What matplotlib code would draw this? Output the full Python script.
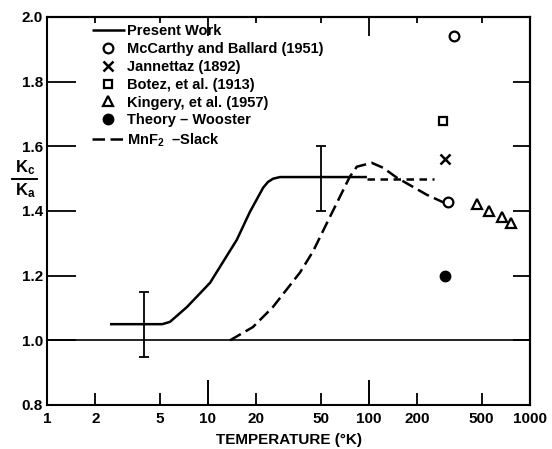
import matplotlib
matplotlib.use("Agg")
import matplotlib.pyplot as plt
from matplotlib.lines import Line2D
from matplotlib.ticker import FixedLocator, FixedFormatter, NullFormatter

plt.rcParams['font.family'] = ['Liberation Sans', 'DejaVu Sans']
plt.rcParams['font.weight'] = 'bold'
plt.rcParams['axes.labelweight'] = 'bold'
plt.rcParams['mathtext.fontset'] = 'custom'
plt.rcParams['mathtext.rm'] = 'Liberation Sans:bold'
plt.rcParams['mathtext.it'] = 'Liberation Sans:bold'
plt.rcParams['mathtext.bf'] = 'Liberation Sans:bold'

# ---- data ----
present_T = [2.46, 5.2, 5.8, 7.4, 10.3, 15.1, 18.2, 22, 23.6, 25.4, 28, 35, 50, 97]
present_K = [1.05, 1.05, 1.057, 1.103, 1.178, 1.311, 1.397, 1.472, 1.49, 1.50, 1.505, 1.505, 1.505, 1.505]
extrap_T = [97, 253]
extrap_K = [1.50, 1.50]

err_T = [4.0, 50]
err_K = [1.05, 1.50]
err_dK = [0.10, 0.10]

slack_T = [13.7, 19, 25.3, 37.3, 44.9, 54.8, 76, 84, 104, 122, 149, 229, 310]
slack_K = [1.0, 1.041, 1.103, 1.21, 1.275, 1.363, 1.506, 1.537, 1.549, 1.534, 1.503, 1.45, 1.42]

mccarthy_T = [337, 310]
mccarthy_K = [1.942, 1.428]
jannettaz_T = [297]
jannettaz_K = [1.562]
botez_T = [288]
botez_K = [1.679]
kingery_T = [468, 556, 670, 764]
kingery_K = [1.422, 1.40, 1.382, 1.363]
wooster_T = [297]
wooster_K = [1.20]

x_major = [10, 100]
x_minor = [1, 2, 5, 20, 50, 200, 500, 1000]
x_minor_labels = ['1', '2', '5', '20', '50', '200', '500', '1000']
y_ticks = [0.8, 1.0, 1.2, 1.4, 1.6, 1.8, 2.0]
y_labels = ['0.8', '1.0', '1.2', '1.4', '1.6', '1.8', '2.0']

fig = plt.figure(figsize=(5.52, 4.49), dpi=100)
ax = fig.add_axes([47/552, 1-405/449, (530-47)/552, (405-17)/449])

ax.set_xscale('log')
ax.set_xlim(1, 1000)
ax.set_ylim(0.8, 2.0)

lw = 1.8
ax.axhline(1.0, color='black', lw=1.2)
ax.plot(present_T, present_K, color='black', lw=lw, label='Present Work',
        solid_capstyle='butt', solid_joinstyle='round')
ax.plot(extrap_T, extrap_K, color='black', lw=lw, dashes=(3, 2.2))
ax.errorbar(err_T, err_K, yerr=err_dK, fmt='none', ecolor='black',
            elinewidth=1.3, capsize=3.5, capthick=1.3)
ax.plot(mccarthy_T, mccarthy_K, linestyle='none', marker='o', ms=7, mfc='white',
        mec='black', mew=1.6, label='McCarthy and Ballard (1951)', zorder=5)
ax.plot(jannettaz_T, jannettaz_K, linestyle='none', marker='x', ms=6.5,
        mec='black', mew=1.8, label='Jannettaz (1892)')
ax.plot(botez_T, botez_K, linestyle='none', marker='s', ms=6, mfc='white',
        mec='black', mew=1.6, label='Botez, et al. (1913)')
ax.plot(kingery_T, kingery_K, linestyle='none', marker='^', ms=7, mfc='white',
        mec='black', mew=1.6, label='Kingery, et al. (1957)')
ax.plot(wooster_T, wooster_K, linestyle='none', marker='o', ms=7.5, color='black',
        label='Theory – Wooster')
ax.plot(slack_T, slack_K, color='black', lw=lw, dashes=(5, 2.2),
        label='MnF$_2$  –Slack')

# ticks bottom / left
ax.xaxis.set_major_locator(FixedLocator(x_major))
ax.xaxis.set_major_formatter(FixedFormatter(['10', '100']))
ax.xaxis.set_minor_locator(FixedLocator(x_minor))
ax.xaxis.set_minor_formatter(FixedFormatter(x_minor_labels))
ax.tick_params(axis='x', which='major', direction='in', length=18, width=1.4,
               labelsize=11, pad=5)
ax.tick_params(axis='x', which='minor', direction='in', length=9, width=1.3,
               labelsize=11, pad=5)
ax.set_yticks(y_ticks)
ax.set_yticklabels(y_labels)
ax.tick_params(axis='y', which='major', direction='in', length=21, width=1.3,
               labelsize=11, pad=3)
ax.tick_params(axis='y', which='minor', left=False)

# top and right ticks
top = ax.secondary_xaxis('top')
top.xaxis.set_major_locator(FixedLocator(x_major))
top.xaxis.set_minor_locator(FixedLocator(x_minor))
top.xaxis.set_major_formatter(NullFormatter())
top.xaxis.set_minor_formatter(NullFormatter())
top.tick_params(which='major', direction='in', length=14, width=1.3)
top.tick_params(which='minor', direction='in', length=4, width=1.3)
right = ax.secondary_yaxis('right')
right.set_yticks(y_ticks)
right.yaxis.set_major_formatter(NullFormatter())
right.tick_params(which='major', direction='in', length=12.5, width=1.3)
right.tick_params(which='minor', right=False)
for a in (ax, top, right):
    for s in a.spines.values():
        s.set_linewidth(1.5)

ax.set_xlabel('TEMPERATURE (°K)', fontsize=11, fontweight='bold', labelpad=5)

# stacked y-axis label  Kc / Ka
fig.text(25/552, 1-168/449, '$K_c$', fontsize=12, ha='center', va='center')
fig.text(25/552, 1-191/449, '$K_a$', fontsize=12, ha='center', va='center')
fig.add_artist(Line2D([12/552, 37/552], [1-179/449, 1-179/449],
                      transform=fig.transFigure, color='black', lw=1.4))

leg = ax.legend(loc='upper left', bbox_to_anchor=(0.088, 0.99), frameon=False,
                fontsize=10.5, handlelength=2.2, handletextpad=0.15,
                labelspacing=0.27, borderaxespad=0.0, borderpad=0.2)

fig.savefig('out.png', dpi=100)
